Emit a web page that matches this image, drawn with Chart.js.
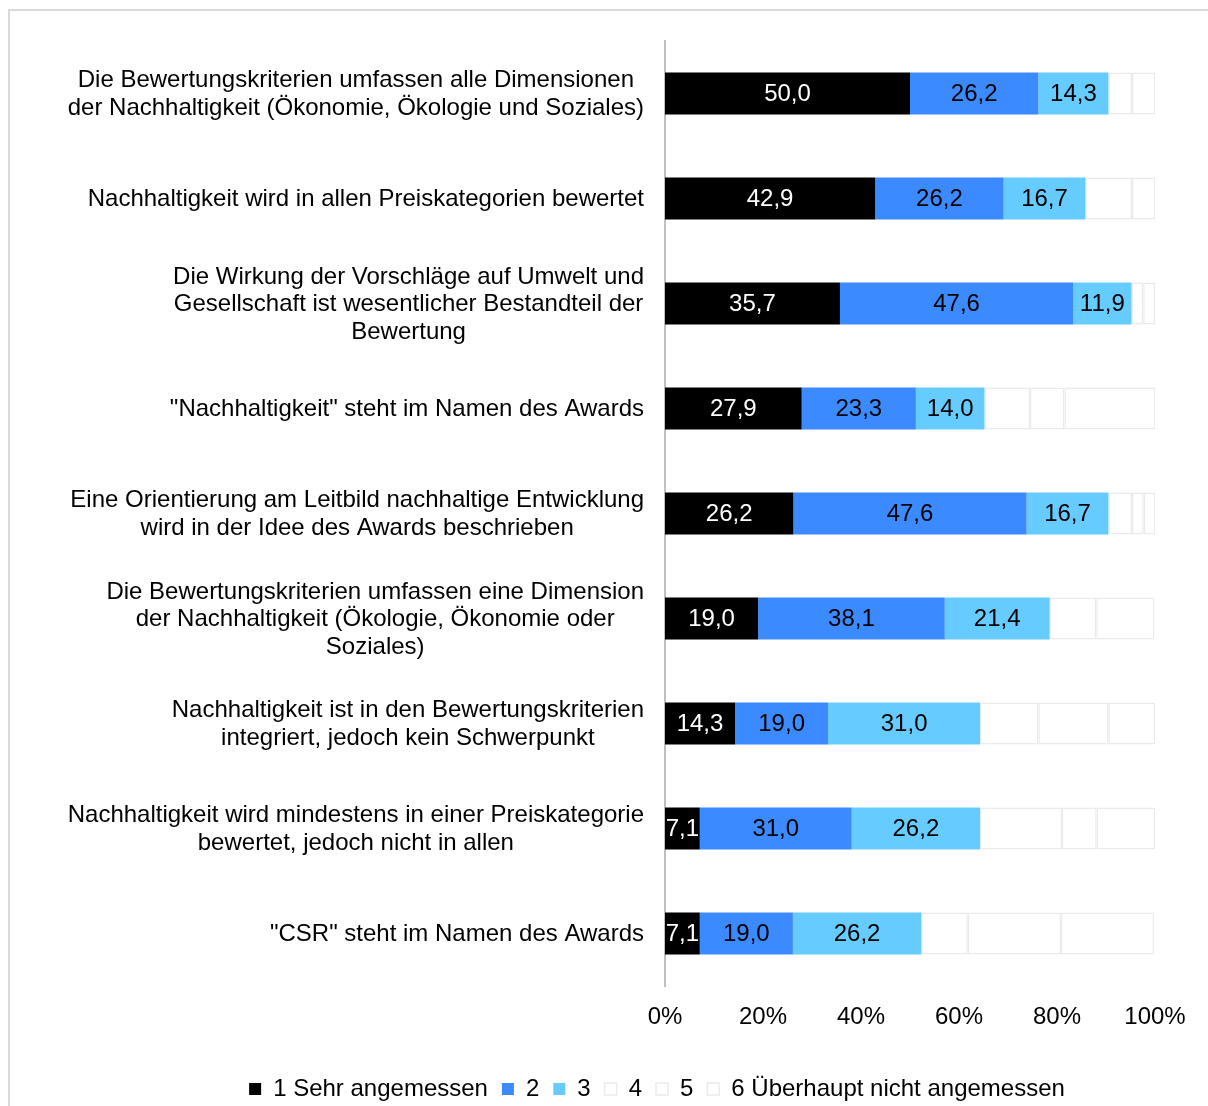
<!DOCTYPE html>
<html>
<head>
<meta charset="utf-8">
<script src="https://cdn.jsdelivr.net/npm/chart.js@4/dist/chart.umd.min.js"></script>
<style>
    body { margin: 0; overflow: hidden; background: #fff; }
    #frame {
        position: absolute; left: 8px; top: 9px; width: 1300px; height: 1200px;
        border-left: 2px solid #d9d9d9; border-top: 2px solid #d9d9d9;
    }
    #chart { position: absolute; left: 0; top: 0; }
</style>
</head>
<body>
<div id="frame"></div>
<canvas id="chart" width="1208" height="1111"></canvas>
<script>
const categories = [
    ['Die Bewertungskriterien umfassen alle Dimensionen', 'der Nachhaltigkeit (Ökonomie, Ökologie und Soziales)'],
    ['Nachhaltigkeit wird in allen Preiskategorien bewertet'],
    ['Die Wirkung der Vorschläge auf Umwelt und', 'Gesellschaft ist wesentlicher Bestandteil der', 'Bewertung'],
    ['"Nachhaltigkeit" steht im Namen des Awards'],
    ['Eine Orientierung am Leitbild nachhaltige Entwicklung', 'wird in der Idee des Awards beschrieben'],
    ['Die Bewertungskriterien umfassen eine Dimension', 'der Nachhaltigkeit (Ökologie, Ökonomie oder', 'Soziales)'],
    ['Nachhaltigkeit ist in den Bewertungskriterien', 'integriert, jedoch kein Schwerpunkt'],
    ['Nachhaltigkeit wird mindestens in einer Preiskategorie', 'bewertet, jedoch nicht in allen'],
    ['"CSR" steht im Namen des Awards']
];

const seriesNames = ['1 Sehr angemessen', '2', '3', '4', '5', '6 Überhaupt nicht angemessen'];

const s1 = [50.0, 42.9, 35.7, 27.9, 26.2, 19.0, 14.3, 7.1, 7.1];
const s2 = [26.2, 26.2, 47.6, 23.3, 47.6, 38.1, 19.0, 31.0, 19.0];
const s3 = [14.3, 16.7, 11.9, 14.0, 16.7, 21.4, 31.0, 26.2, 26.2];
const s4 = [4.8, 9.5, 2.4, 9.3, 4.8, 9.5, 11.9, 16.7, 9.5];
const s5 = [4.8, 4.8, 2.4, 7.0, 2.4, 11.9, 14.3, 7.1, 19.0];
const s6 = [0, 0, 0, 18.6, 2.4, 0, 9.5, 11.9, 19.0];

const xTicks = [0, 20, 40, 60, 80, 100];

const FONT = 'Liberation Sans, Arial, sans-serif';
Chart.defaults.font.family = FONT;
Chart.defaults.font.size = 24;
Chart.defaults.color = '#000';

const fills = ['#000000', '#3c8aff', '#66ccff', '#ffffff', '#ffffff', '#ffffff'];
const labelColors = ['#ffffff', '#000000', '#000000'];

const datasets = [s1, s2, s3, s4, s5, s6].map((d, i) => ({
    label: seriesNames[i],
    data: d,
    backgroundColor: fills[i],
    borderColor: i < 3 ? fills[i] : '#ebebeb',
    borderWidth: i < 3 ? 0 : 1.5,
    borderSkipped: false,
    categoryPercentage: 1,
    barPercentage: 0.4
}));

// category labels: block right-aligned next to the axis, lines centred inside the block
const categoryLabels = {
    id: 'categoryLabels',
    afterDraw(chart) {
        const ctx = chart.ctx;
        const y = chart.scales.y;
        const right = chart.chartArea.left - 21;
        const lh = 27.5;
        ctx.save();
        ctx.font = '24px ' + FONT;
        ctx.fillStyle = '#000';
        ctx.textAlign = 'center';
        ctx.textBaseline = 'middle';
        categories.forEach((lines, i) => {
            const w = Math.max(...lines.map(l => ctx.measureText(l).width));
            const cx = right - w / 2;
            const cy = y.getPixelForValue(i) + 1;
            lines.forEach((l, k) => {
                ctx.fillText(l, cx, cy + (k - (lines.length - 1) / 2) * lh);
            });
        });
        ctx.restore();
    }
};

// value labels inside the first three segments
const valueLabels = {
    id: 'valueLabels',
    afterDatasetsDraw(chart) {
        const ctx = chart.ctx;
        ctx.save();
        ctx.font = '24px ' + FONT;
        ctx.textAlign = 'center';
        ctx.textBaseline = 'middle';
        for (let d = 0; d < 3; d++) {
            const meta = chart.getDatasetMeta(d);
            ctx.fillStyle = labelColors[d];
            meta.data.forEach((bar, i) => {
                const p = bar.getProps(['x', 'y', 'base'], true);
                const v = chart.data.datasets[d].data[i];
                ctx.fillText(v.toFixed(1).replace('.', ','), (p.x + p.base) / 2, p.y + 1);
            });
        }
        ctx.restore();
    }
};

new Chart(document.getElementById('chart'), {
    type: 'bar',
    data: {
        labels: categories.map(c => c.join(' ')),
        datasets: datasets
    },
    options: {
        indexAxis: 'y',
        responsive: false,
        animation: false,
        devicePixelRatio: 1,
        layout: {
            padding: {left: 159, right: 53, top: 41, bottom: 0}
        },
        scales: {
            x: {
                stacked: true,
                min: 0,
                max: 100,
                afterBuildTicks: (scale) => {
                    scale.ticks = xTicks.map(v => ({value: v}));
                },
                afterFit: (scale) => { scale.height = 77; },
                grid: {display: false},
                border: {display: false},
                ticks: {
                    padding: 8.5,
                    maxRotation: 0,
                    callback: (v) => v + '%'
                }
            },
            y: {
                stacked: true,
                afterFit: (scale) => { scale.width = 506; },
                grid: {display: false},
                border: {display: true, color: '#bfbfbf', width: 2},
                ticks: {display: false}
            }
        },
        plugins: {
            legend: {
                position: 'bottom',
                labels: {
                    boxWidth: 12,
                    boxHeight: 12,
                    padding: 14,
                    font: {size: 24}
                }
            },
            tooltip: {enabled: false}
        }
    },
    plugins: [categoryLabels, valueLabels]
});
</script>
</body>
</html>
